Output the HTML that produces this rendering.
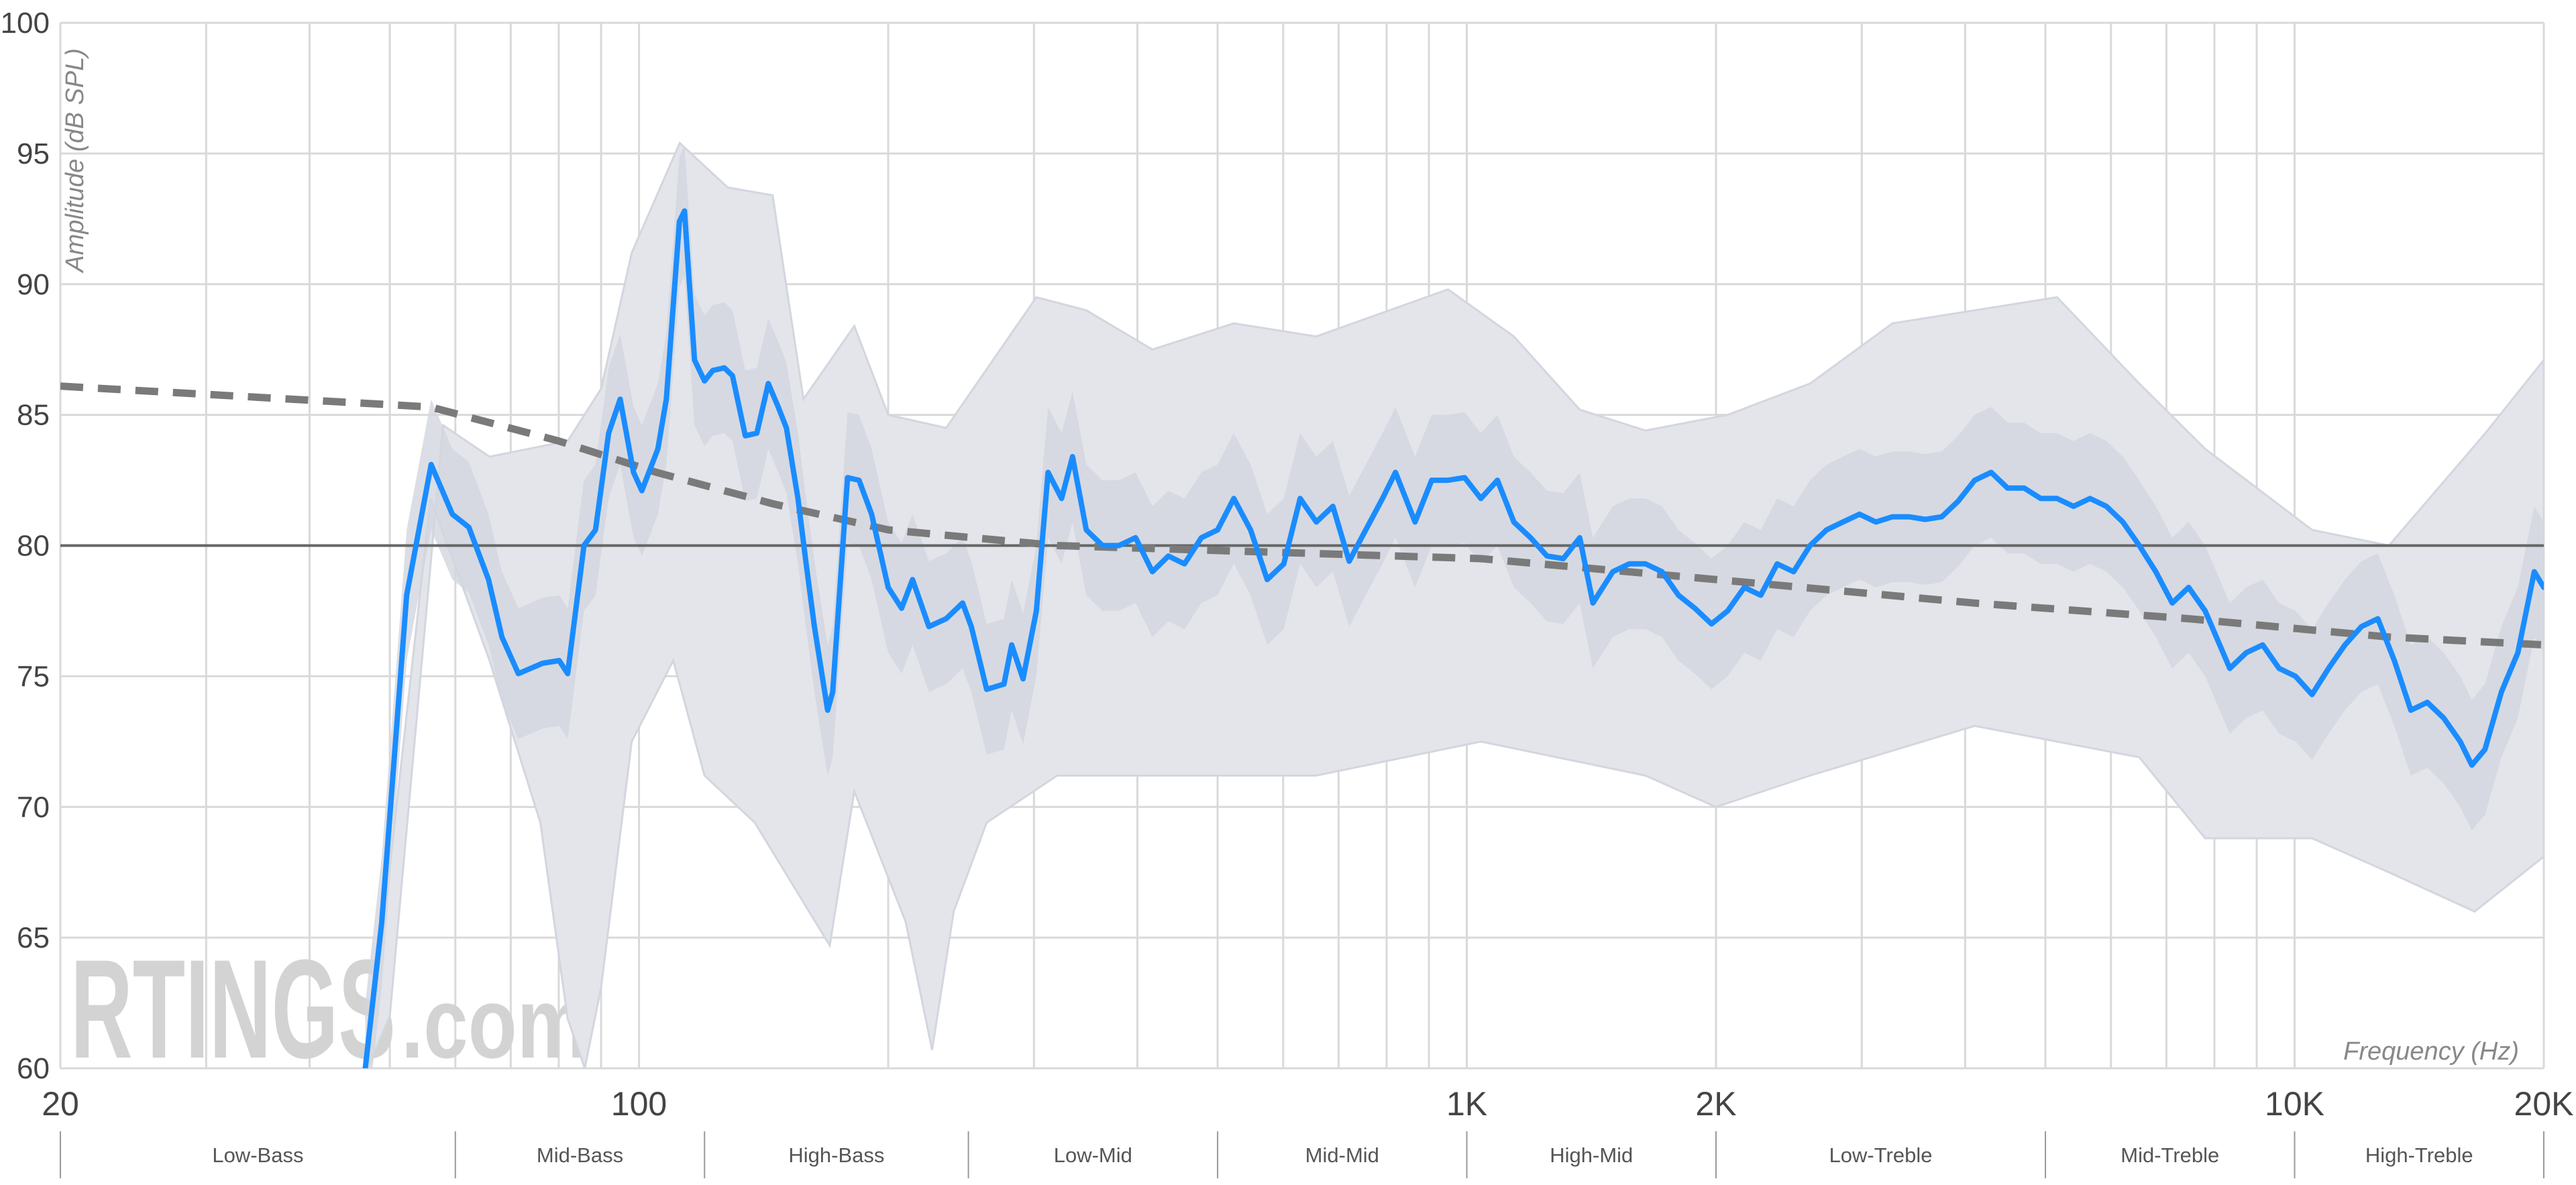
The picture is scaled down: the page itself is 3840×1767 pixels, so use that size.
<!DOCTYPE html>
<html><head><meta charset="utf-8"><style>
html,body{margin:0;padding:0;background:#fff;}
svg{display:block;font-family:"Liberation Sans",sans-serif;}
</style></head><body>
<svg id="chart" width="3840" height="1767" viewBox="0 0 3840 1767" xmlns="http://www.w3.org/2000/svg">
<defs><clipPath id="plotclip"><rect x="90" y="34" width="3702" height="1559"/></clipPath></defs>
<g id="grid"></g>
<g id="wm">
<text x="105" y="1577" font-size="210" font-weight="bold" fill="#d3d3d3" textLength="485" lengthAdjust="spacingAndGlyphs">RTINGS</text>
<text x="598" y="1577" font-size="150" font-weight="bold" fill="#d3d3d3" textLength="279" lengthAdjust="spacingAndGlyphs">.com</text>
</g>
<g id="data" clip-path="url(#plotclip)"></g>
<g id="axes"></g>
</svg>
<script>
const blueFreq=[46.7,48.9,52.4,56.1,59.5,62.3,65.8,68.3,71.5,76.5,80.1,82,85.8,88.6,91.9,94.9,98.5,100.8,105.4,107.9,111.9,113.5,116.7,120,122.8,126.8,129.7,134.4,138.8,143.3,147.3,150.7,155.6,159.2,162.9,169,171.4,178.6,184.4,191,200,207.6,214,224,235,246,252,263,276,282,291,302,312,324,334,347,363,380,398,417,436,456,478,500,523,548,574,601,629,658,689,721,755,791,820,866,907,949,994,1040,1089,1140,1194,1250,1308,1369,1420,1501,1571,1644,1721,1802,1886,1975,2066,2164,2265,2371,2482,2598,2720,2847,2981,3120,3267,3420,3580,3748,3923,4107,4300,4501,4713,4934,5164,5406,5660,5925,6202,6492,6797,7115,7448,7797,8350,8741,9150,9578,10026,10497,10990,11504,12044,12606,13197,13816,14462,15141,15850,16370,16980,17775,18606,19478,20000];
const blueDb=[60,65.6,78.1,83.1,81.2,80.7,78.7,76.5,75.1,75.5,75.6,75.1,80.0,80.6,84.3,85.6,82.8,82.1,83.7,85.6,92.4,92.8,87.1,86.3,86.7,86.8,86.5,84.2,84.3,86.2,85.3,84.5,81.8,79.3,76.9,73.7,74.4,82.6,82.5,81.2,78.4,77.6,78.7,76.9,77.2,77.8,76.9,74.5,74.7,76.2,74.9,77.5,82.8,81.8,83.4,80.6,80.0,80.0,80.3,79.0,79.6,79.3,80.3,80.6,81.8,80.6,78.7,79.3,81.8,80.9,81.5,79.4,80.6,81.8,82.8,80.9,82.5,82.5,82.6,81.8,82.5,80.9,80.3,79.6,79.5,80.3,77.8,79.0,79.3,79.3,79.0,78.1,77.6,77.0,77.5,78.4,78.1,79.3,79.0,80.0,80.6,80.9,81.2,80.9,81.1,81.1,81.0,81.1,81.7,82.5,82.8,82.2,82.2,81.8,81.8,81.5,81.8,81.5,80.9,80.0,79.0,77.8,78.4,77.5,75.3,75.9,76.2,75.3,75.0,74.3,75.3,76.2,76.9,77.2,75.6,73.7,74.0,73.4,72.5,71.6,72.2,74.4,75.9,79.0,78.4];
const targetFreq=[20,56,80,105,145,200,320,1040,2000,4100,7450,13000,20000];
const targetDb=[86.1,85.3,84.0,82.8,81.6,80.6,80.0,79.5,78.7,77.8,77.2,76.5,76.2];
const upperFreq=[50,58,66,82,90,98,112,128,145,158,182,200,235,302,347,417,523,658,949,1140,1369,1644,2066,2598,3267,4107,5164,6492,7797,10497,13000,17000,20000];
const upperDb=[62,84.6,83.4,84,86,91.2,95.4,93.7,93.4,85.6,88.4,85,84.5,89.5,89,87.5,88.5,88,89.8,88,85.2,84.4,85,86.2,88.5,89,89.5,86.2,83.7,80.6,80,84.3,87.1];
const lowerFreq=[47,56,66,76,82,86,90,98,110,120,138,170,182,210,226,240,263,320,417,658,1040,1644,2000,2598,4107,6492,7797,10497,13000,16500,20000];
const lowerDb=[60,81.8,75.6,69.4,61.9,60,63.1,72.5,75.6,71.2,69.4,64.7,70.6,65.6,60.7,66,69.4,71.2,71.2,71.2,72.5,71.2,70,71.2,73.1,71.9,68.8,68.8,67.5,66,68.1];
const yTicks=[60,65,70,75,80,85,90,95,100];
const xTickVals=[20,100,1000,2000,10000,20000];
const xTickLabels=["20","100","1K","2K","10K","20K"];
const gridFreqs=[30,40,50,60,70,80,90,200,300,400,500,600,700,800,900,3000,4000,5000,6000,7000,8000,9000];
const bandEdges=[20,60,120,250,500,1000,2000,5000,10000,20000];
const bandNames=["Low-Bass","Mid-Bass","High-Bass","Low-Mid","Mid-Mid","High-Mid","Low-Treble","Mid-Treble","High-Treble"];

const L=90,R=3792,T=34,B=1593;
const NS="http://www.w3.org/2000/svg";
function x(f){return L+(Math.log10(f/20)/3)*(R-L);}
function y(v){return B-(v-60)/40*(B-T);}
function mk(tag,attrs,parent){const e=document.createElementNS(NS,tag);for(const k in attrs)e.setAttribute(k,attrs[k]);parent.appendChild(e);return e;}
function pts(fs,vs){return fs.map((f,i)=>x(f).toFixed(1)+","+y(vs[i]).toFixed(1)).join(" ");}
const grid=document.getElementById('grid'),data=document.getElementById('data'),axes=document.getElementById('axes');

yTicks.forEach(v=>{
  const l=mk('line',{x1:L,x2:R,y1:y(v),y2:y(v),stroke:'#d9d9d9','stroke-width':3},grid);
  
  
  const t=mk('text',{x:74,y:y(v)+15,'font-size':44,fill:'#444','text-anchor':'end'},axes);
  t.textContent=v;
  
  
});
gridFreqs.concat([20,100,1000,2000,10000,20000]).forEach(f=>{
  const l=mk('line',{x1:x(f),x2:x(f),y1:T,y2:B,stroke:'#d9d9d9','stroke-width':3},grid);
  
  
});
xTickVals.forEach((f,i)=>{
  const t=mk('text',{x:x(f),y:1663,'font-size':50,fill:'#444','text-anchor':'middle'},axes);
  t.textContent=xTickLabels[i];
  
  
});
bandEdges.forEach(f=>{
  const l=mk('line',{x1:x(f),x2:x(f),y1:1687,y2:1757,stroke:'#999','stroke-width':2},axes);
  
  
});
bandNames.forEach((n,i)=>{
  const cx=(x(bandEdges[i])+x(bandEdges[i+1]))/2;
  const t=mk('text',{x:cx,y:1733,'font-size':31,fill:'#555','text-anchor':'middle'},axes);
  t.textContent=n;
  
  
});
const at=mk('text',{x:0,y:0,'font-size':38,fill:'#888','font-style':'italic','text-anchor':'end',transform:'translate(124,72) rotate(-90)'},axes);
at.textContent='Amplitude (dB SPL)';


const ft=mk('text',{x:3755,y:1580,'font-size':38,fill:'#888','font-style':'italic','text-anchor':'end'},axes);
ft.textContent='Frequency (Hz)';



const env=mk('polygon',{points:pts(upperFreq,upperDb)+" "+pts(lowerFreq.slice().reverse(),lowerDb.slice().reverse()),fill:'#e3e5eb',stroke:'#d3d6de','stroke-width':3},data);


const core=mk('polygon',{points:pts(blueFreq,blueDb.map(v=>v+2.5))+" "+pts(blueFreq.slice().reverse(),blueDb.slice().reverse().map(v=>v-2.5)),fill:'#d2d6de',opacity:0.8},data);



const ref=mk('line',{x1:L,x2:R,y1:y(80),y2:y(80),stroke:'#666','stroke-width':4},data);


const tg=mk('polyline',{points:pts(targetFreq,targetDb),fill:'none',stroke:'#7a7a7a','stroke-width':11,'stroke-dasharray':'34 22'},data);


const bl=mk('polyline',{points:pts(blueFreq,blueDb),fill:'none',stroke:'#1a8cff','stroke-width':8,'stroke-linejoin':'round','stroke-linecap':'round'},data);


</script>
</body></html>
